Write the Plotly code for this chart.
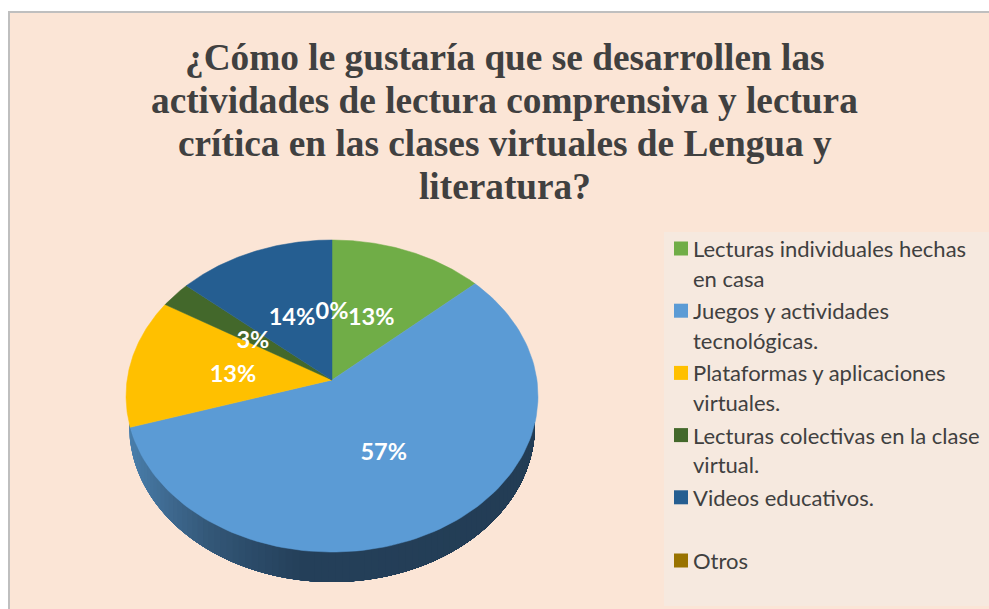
import numpy as np
import plotly.graph_objects as go

W, H = 989, 609
title_lines = ["¿Cómo le gustaría que se desarrollen las",
               "actividades de lectura comprensiva y lectura",
               "crítica en las clases virtuales de Lengua y",
               "literatura?"]
categories = ["Lecturas individuales hechas|en casa",
              "Juegos y actividades|tecnológicas.",
              "Plataformas y aplicaciones|virtuales.",
              "Lecturas colectivas en la clase|virtual.",
              "Videos educativos.",
              "Otros"]
values = [13.4, 56.8, 13.4, 2.7, 13.7, 0.0]
colors = ["#70AD47", "#5B9BD5", "#FFC000", "#43682B", "#255E91", "#997300"]
labels = ["13%", "57%", "13%", "3%", "14%", "0%"]

# Perspective of the pie (tilted disk): apex, scale in px per data unit
CX, CY, SX, SY, K = 332, 380, 204.9, 154.4, 0.1026
DEPTH = 30 / SY

def project(theta, r=1.0):
    x, y = r * np.sin(theta), r * np.cos(theta)
    d = 1 + K * y
    return x / d, y / d

def px(x):
    return x / W

def py(y):
    return 1 - y / H

fig = go.Figure()

# Side of the pie: each piece runs to the right end and is painted over by the next one
rx_u = 1 / np.sqrt(1 - K ** 2)
top, bot = 1 / (1 + K), -1 / (1 - K)
cy_u, ry_u = (top + bot) / 2, (top - bot) / 2
rx_l, ry_l, cy_l = rx_u * 0.985, ry_u, cy_u - DEPTH
stops = [-1.0, -0.8, -0.6, -0.4, -0.15, 1.0]
stop_rgb = np.array([[74, 128, 174], [63, 106, 144], [52, 88, 120],
                     [44, 76, 106], [37, 64, 90], [35, 61, 85]], float)
edges = rx_l * np.sin(np.linspace(-np.pi / 2, np.pi / 2, 90))
for a, b in zip(edges[:-1], edges[1:]):
    xs = rx_l * np.sin(np.linspace(np.arcsin(a / rx_l), np.pi / 2, 80))
    yu = cy_u - ry_u * np.sqrt(np.clip(1 - (xs / rx_u) ** 2, 0, 1))
    yl = cy_l - ry_l * np.sqrt(np.clip(1 - (xs / rx_l) ** 2, 0, 1))
    m = (a + b) / 2
    rgb = [int(np.interp(m, stops, stop_rgb[:, i])) for i in range(3)]
    col = f"rgb({rgb[0]},{rgb[1]},{rgb[2]})"
    fig.add_trace(go.Scatter(x=np.r_[xs, xs[::-1]], y=np.r_[yu, yl[::-1]], mode="lines",
                             fill="toself", fillcolor=col, line=dict(color=col, width=0),
                             hoverinfo="skip", showlegend=False))

# Slices
cum = np.cumsum([0] + values)
total = sum(values)
for i, cat in enumerate(categories):
    if values[i] <= 0:
        continue
    t = 2 * np.pi * np.linspace(cum[i], cum[i + 1], 120) / total
    ax, ay = project(t)
    fig.add_trace(go.Scatter(x=np.r_[0, ax, 0], y=np.r_[0, ay, 0], mode="lines", fill="toself",
                             fillcolor=colors[i], line=dict(color=colors[i], width=0.5),
                             name=cat.replace("|", " "), hoverinfo="name", showlegend=False))

# Data labels
mid = 2 * np.pi * (cum[:-1] + cum[1:]) / 2 / total
lx, ly = project(mid, 0.49)
fig.add_trace(go.Scatter(x=lx, y=ly - 5 / SY, mode="text", text=labels, hoverinfo="skip", showlegend=False,
                         textfont=dict(family="Lato", size=23.5, color="white", weight="bold")))

shapes = [dict(type="rect", xref="paper", yref="paper", layer="below",
               x0=px(9), x1=px(995), y0=py(620), y1=py(12),
               fillcolor="#FBE5D6", line=dict(color="#BFBFBF", width=2)),
          dict(type="rect", xref="paper", yref="paper", layer="below",
               x0=px(664), x1=px(989), y0=py(606), y1=py(232),
               fillcolor="#F6E9DF", line=dict(width=0))]
ann = []
for j, line in enumerate(title_lines):
    ann.append(dict(text=line, xref="paper", yref="paper", x=px(505), y=py(57 + 43.3 * j),
                    xanchor="center", yanchor="middle", showarrow=False,
                    font=dict(family="Liberation Serif", size=37.3, color="#404040", weight="bold")))

# Legend rows
leg_y = 248.5
row = 29.6
for i, cat in enumerate(categories):
    if i == 5:
        leg_y += 2 * row - 29.6 + 1
    shapes.append(dict(type="rect", xref="paper", yref="paper", x0=px(674), x1=px(688),
                       y0=py(leg_y + 7), y1=py(leg_y - 7), fillcolor=colors[i], line=dict(width=0)))
    for part in cat.split("|"):
        ann.append(dict(text=part, xref="paper", yref="paper", x=px(691), y=py(leg_y),
                        xanchor="left", yanchor="middle", showarrow=False,
                        font=dict(family="Lato", size=22, color="#404040")))
        leg_y += row
    leg_y += 3

fig.update_layout(
    width=W, height=H, margin=dict(l=0, r=0, t=0, b=0), autosize=False,
    paper_bgcolor="white", plot_bgcolor="rgba(0,0,0,0)",
    xaxis=dict(visible=False, range=[-CX / SX, (W - CX) / SX], fixedrange=True),
    yaxis=dict(visible=False, range=[(CY - H) / SY, CY / SY], fixedrange=True),
    shapes=shapes, annotations=ann, showlegend=False,
)
fig.write_html("out.html", post_script="document.body.style.margin='0';",
               config=dict(displayModeBar=False))
